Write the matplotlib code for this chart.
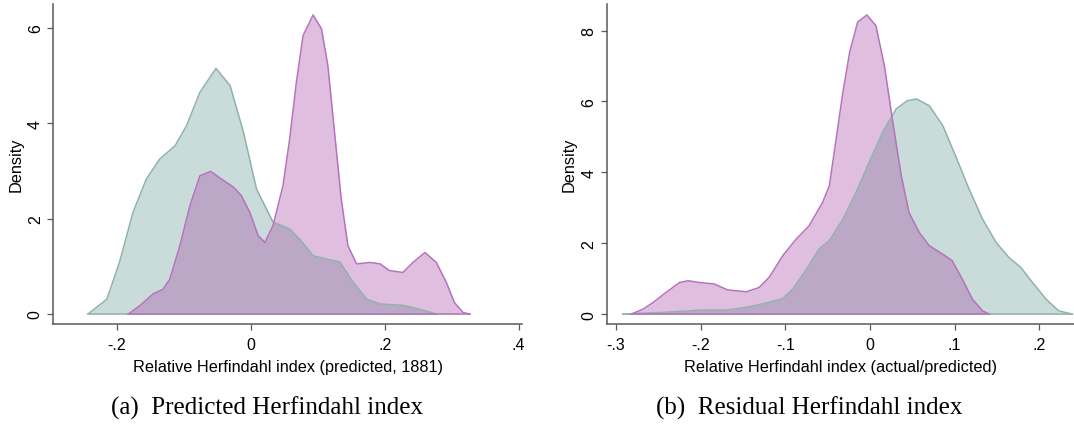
import numpy as np
import matplotlib.pyplot as plt

# Panel (a): predicted Herfindahl index, densities read off the kernel estimates
a_green_x = [-0.243, -0.215, -0.196, -0.176, -0.156, -0.136, -0.113, -0.096, -0.076,
             -0.052, -0.031, -0.011, 0.0085, 0.033, 0.058, 0.073, 0.093, 0.113, 0.133,
             0.153, 0.173, 0.193, 0.227, 0.252, 0.277]
a_green_y = [0.0, 0.31, 1.09, 2.13, 2.83, 3.25, 3.53, 3.95, 4.65,
             5.15, 4.79, 3.81, 2.62, 1.93, 1.78, 1.57, 1.22, 1.15, 1.09,
             0.66, 0.31, 0.21, 0.18, 0.10, 0.0]

a_purple_x = [-0.183, -0.166, -0.146, -0.131, -0.121, -0.106, -0.091, -0.076, -0.060,
              -0.044, -0.026, -0.014, -0.0015, 0.011, 0.021, 0.033, 0.048, 0.058, 0.068,
              0.078, 0.093, 0.1055, 0.115, 0.125, 0.135, 0.145, 0.158, 0.178, 0.193,
              0.207, 0.227, 0.242, 0.260, 0.277, 0.292, 0.304, 0.317, 0.327]
a_purple_y = [0.0, 0.17, 0.42, 0.52, 0.73, 1.43, 2.27, 2.90, 2.99,
              2.83, 2.66, 2.48, 2.13, 1.64, 1.50, 1.85, 2.69, 3.67, 4.86,
              5.84, 6.27, 5.98, 5.21, 3.81, 2.41, 1.43, 1.05, 1.08, 1.05,
              0.91, 0.87, 1.08, 1.29, 1.08, 0.66, 0.24, 0.03, 0.0]

# Panel (b): residual Herfindahl index
b_green_x = [-0.292, -0.241, -0.201, -0.170, -0.146, -0.123, -0.103, -0.091, -0.075,
             -0.060, -0.048, -0.032, -0.0165, -0.001, 0.015, 0.031, 0.044, 0.055, 0.070,
             0.086, 0.101, 0.117, 0.133, 0.149, 0.164, 0.178, 0.192, 0.208, 0.223, 0.239]
b_green_y = [0.0, 0.05, 0.11, 0.11, 0.19, 0.31, 0.44, 0.71, 1.27,
             1.84, 2.07, 2.68, 3.43, 4.28, 5.13, 5.79, 6.02, 6.07, 5.88,
             5.32, 4.47, 3.53, 2.68, 2.02, 1.60, 1.32, 0.89, 0.42, 0.09, 0.0]

b_purple_x = [-0.282, -0.268, -0.256, -0.241, -0.225, -0.215, -0.201, -0.184, -0.168,
              -0.146, -0.131, -0.119, -0.103, -0.087, -0.072, -0.056, -0.048, -0.040,
              -0.032, -0.024, -0.0146, -0.0036, 0.007, 0.017, 0.027, 0.037, 0.046,
              0.058, 0.070, 0.086, 0.097, 0.109, 0.121, 0.133, 0.141]
b_purple_y = [0.0, 0.14, 0.33, 0.61, 0.89, 0.94, 0.89, 0.85, 0.68,
              0.63, 0.75, 1.04, 1.65, 2.12, 2.49, 3.15, 3.62, 4.94,
              6.26, 7.39, 8.24, 8.44, 8.14, 7.01, 5.41, 3.90, 2.87,
              2.31, 1.93, 1.69, 1.51, 0.99, 0.42, 0.09, 0.0]

a_xticks = [-0.2, 0, 0.2, 0.4]
a_xticklabels = ['-.2', '0', '.2', '.4']
a_yticks = [0, 2, 4, 6]
b_xticks = [-0.3, -0.2, -0.1, 0, 0.1, 0.2]
b_xticklabels = ['-.3', '-.2', '-.1', '0', '.1', '.2']
b_yticks = [0, 2, 4, 6, 8]

green_fill = '#cadcd9'
green_line = '#8fb2ac'
purple_fill = '#9e379e'
purple_line = '#b672be'
axis_col = '#5a5a5a'

plt.rcParams['font.family'] = ['Liberation Sans', 'DejaVu Sans']

fig = plt.figure(figsize=(10.74, 4.35), dpi=100)
ax_a = fig.add_axes([0.0496, 0.2529, 0.4365, 0.7356])
ax_b = fig.add_axes([0.5649, 0.2529, 0.4351, 0.7356])


def density_panel(ax, gx, gy, px, py, xticks, xlabels, yticks, xlim, ylim, xlabel):
    ax.fill_between(gx, gy, 0, color=green_fill, lw=0, zorder=1)
    ax.fill_between(px, py, 0, color=purple_fill, alpha=0.32, lw=0, zorder=2)
    ax.plot(gx, gy, color=green_line, lw=1.1, zorder=3)
    ax.plot(px, py, color=purple_line, lw=1.1, zorder=3)
    ax.plot([gx[0], gx[-1]], [0, 0], color=green_line, lw=1.1, zorder=3)
    ax.plot([px[0], px[-1]], [0, 0], color=purple_line, lw=1.1, zorder=4)
    ax.set_xlim(*xlim)
    ax.set_ylim(*ylim)
    ax.set_xticks(xticks)
    ax.set_xticklabels(xlabels)
    ax.set_yticks(yticks)
    ax.set_yticklabels([str(t) for t in yticks], rotation=90, va='center')
    for side in ['top', 'right']:
        ax.spines[side].set_visible(False)
    for side in ['left', 'bottom']:
        ax.spines[side].set_color(axis_col)
        ax.spines[side].set_linewidth(1.1)
    ax.tick_params(direction='out', length=4.5, width=0.9, color=axis_col,
                   labelsize=11.5, pad=3)
    ax.tick_params(axis='x', pad=5)
    ax.set_xlabel(xlabel, fontsize=11.7, labelpad=5)
    ax.set_ylabel('Density', fontsize=11.7, labelpad=3)


density_panel(ax_a, a_green_x, a_green_y, a_purple_x, a_purple_y,
              a_xticks, a_xticklabels, a_yticks, (-0.295, 0.405), (-0.21, 6.5),
              'Relative Herfindahl index (predicted, 1881)')
density_panel(ax_b, b_green_x, b_green_y, b_purple_x, b_purple_y,
              b_xticks, b_xticklabels, b_yticks, (-0.311, 0.241), (-0.28, 8.75),
              'Relative Herfindahl index (actual/predicted)')

# Sub-figure captions
fig.text(267 / 1074, 1 - 408 / 435, '(a)  Predicted Herfindahl index',
         family='Liberation Serif', fontsize=18, ha='center', va='center')
fig.text(809 / 1074, 1 - 408 / 435, '(b)  Residual Herfindahl index',
         family='Liberation Serif', fontsize=18, ha='center', va='center')

fig.savefig('out.png', dpi=100)
